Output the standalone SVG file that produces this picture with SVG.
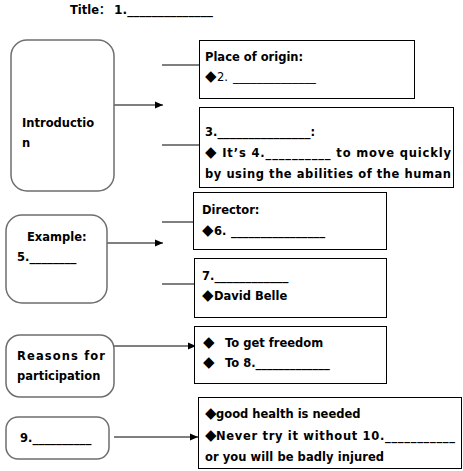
<svg xmlns="http://www.w3.org/2000/svg" width="463" height="471" viewBox="0 0 463 471">
<style>
text{font-family:"DejaVu Sans","Liberation Sans",sans-serif;font-size:11.5px;font-weight:bold;fill:#000}
.n{font-weight:normal}
.d{font-size:15px}
.box{fill:#fff;stroke:#000;stroke-width:1}
.rbox{fill:#fff;stroke:#6e6e6e;stroke-width:1.5}
.ln{stroke:#000;stroke-width:1;fill:none}
</style>
<defs>
<marker id="ah" markerWidth="8" markerHeight="8" refX="8" refY="4" orient="auto" markerUnits="userSpaceOnUse">
<path d="M0,0.5 L8,4 L0,7.5 Z" fill="#000"/>
</marker>
</defs>
<rect width="463" height="471" fill="#fff"/>
<g id="title">
<text x="70" y="14">Title<tspan font-family="Noto Sans CJK SC,sans-serif">：</tspan></text>
<text x="114" y="14" textLength="99" lengthAdjust="spacingAndGlyphs">1.______________</text>
</g>
<g id="connectors">
<line class="ln" x1="114" y1="105" x2="163" y2="105" marker-end="url(#ah)"/>
<line class="ln" x1="162" y1="65" x2="199" y2="65"/>
<line class="ln" x1="162" y1="145" x2="199" y2="145"/>
<line class="ln" x1="107" y1="243" x2="163" y2="243" marker-end="url(#ah)"/>
<line class="ln" x1="162" y1="222" x2="193" y2="222"/>
<line class="ln" x1="162" y1="284" x2="194" y2="284"/>
<line class="ln" x1="114" y1="346" x2="196" y2="346" marker-end="url(#ah)"/>
<line class="ln" x1="114" y1="437" x2="198" y2="437" marker-end="url(#ah)"/>
</g>
<g id="introduction">
<rect class="rbox" x="11" y="40" width="103" height="151" rx="16"/>
<text x="22" y="127">Introductio</text>
<text x="22" y="147">n</text>
</g>
<g id="place">
<rect class="box" x="199.5" y="40.5" width="215" height="58"/>
<text x="205" y="61">Place of origin:</text>
<text x="205" y="81" class="n"><tspan class="d">◆</tspan><tspan x="217">2. </tspan><tspan x="233" textLength="83" lengthAdjust="spacingAndGlyphs">______________</tspan></text>
</g>
<g id="definition">
<rect class="box" x="199.5" y="107.5" width="254" height="80"/>
<text x="205" y="136">3.<tspan textLength="93" lengthAdjust="spacingAndGlyphs">_______________</tspan>:</text>
<text x="205" y="157" textLength="246" lengthAdjust="spacing"><tspan class="d">◆</tspan> It’s 4.__________ to move quickly</text>
<text x="205" y="178" textLength="246" lengthAdjust="spacing">by using the abilities of the human</text>
</g>
<g id="example">
<rect class="rbox" x="6" y="215" width="101" height="88" rx="16"/>
<text x="27" y="241">Example:</text>
<text x="17" y="261">5.<tspan textLength="47" lengthAdjust="spacingAndGlyphs">________</tspan></text>
</g>
<g id="director">
<rect class="box" x="193.5" y="192.5" width="193" height="57"/>
<text x="202" y="214">Director:</text>
<text x="202" y="235"><tspan class="d">◆</tspan><tspan x="214">6. </tspan><tspan x="231" textLength="94" lengthAdjust="spacingAndGlyphs">________________</tspan></text>
</g>
<g id="founder">
<rect class="box" x="194.5" y="258.5" width="192" height="59"/>
<text x="202" y="280">7.<tspan textLength="74" lengthAdjust="spacingAndGlyphs">____________</tspan></text>
<text x="202" y="300"><tspan class="d">◆</tspan><tspan x="214">David Belle</tspan></text>
</g>
<g id="reasons">
<rect class="rbox" x="6" y="335" width="108" height="62" rx="14"/>
<text x="17" y="360" textLength="88" lengthAdjust="spacing">Reasons for</text>
<text x="17" y="380">participation</text>
</g>
<g id="reasons-list">
<rect class="box" x="194.5" y="326.5" width="192" height="57"/>
<text x="203" y="347"><tspan class="d">◆</tspan><tspan x="225">To get freedom</tspan></text>
<text x="203" y="367"><tspan class="d">◆</tspan><tspan x="225">To 8.</tspan><tspan textLength="74" lengthAdjust="spacingAndGlyphs">_____________</tspan></text>
</g>
<g id="nine">
<rect class="rbox" x="6" y="417" width="103" height="42" rx="12"/>
<text x="20" y="442">9.<tspan textLength="59" lengthAdjust="spacingAndGlyphs">__________</tspan></text>
</g>
<g id="advice">
<rect class="box" x="198.5" y="397.5" width="263" height="71"/>
<text x="205" y="418"><tspan class="d">◆</tspan><tspan x="216">good health is needed</tspan></text>
<text x="205" y="440"><tspan class="d">◆</tspan><tspan x="216" textLength="239" lengthAdjust="spacing">Never try it without 10.___________</tspan></text>
<text x="205" y="461" textLength="179" lengthAdjust="spacing">or you will be badly injured</text>
</g>
</svg>
